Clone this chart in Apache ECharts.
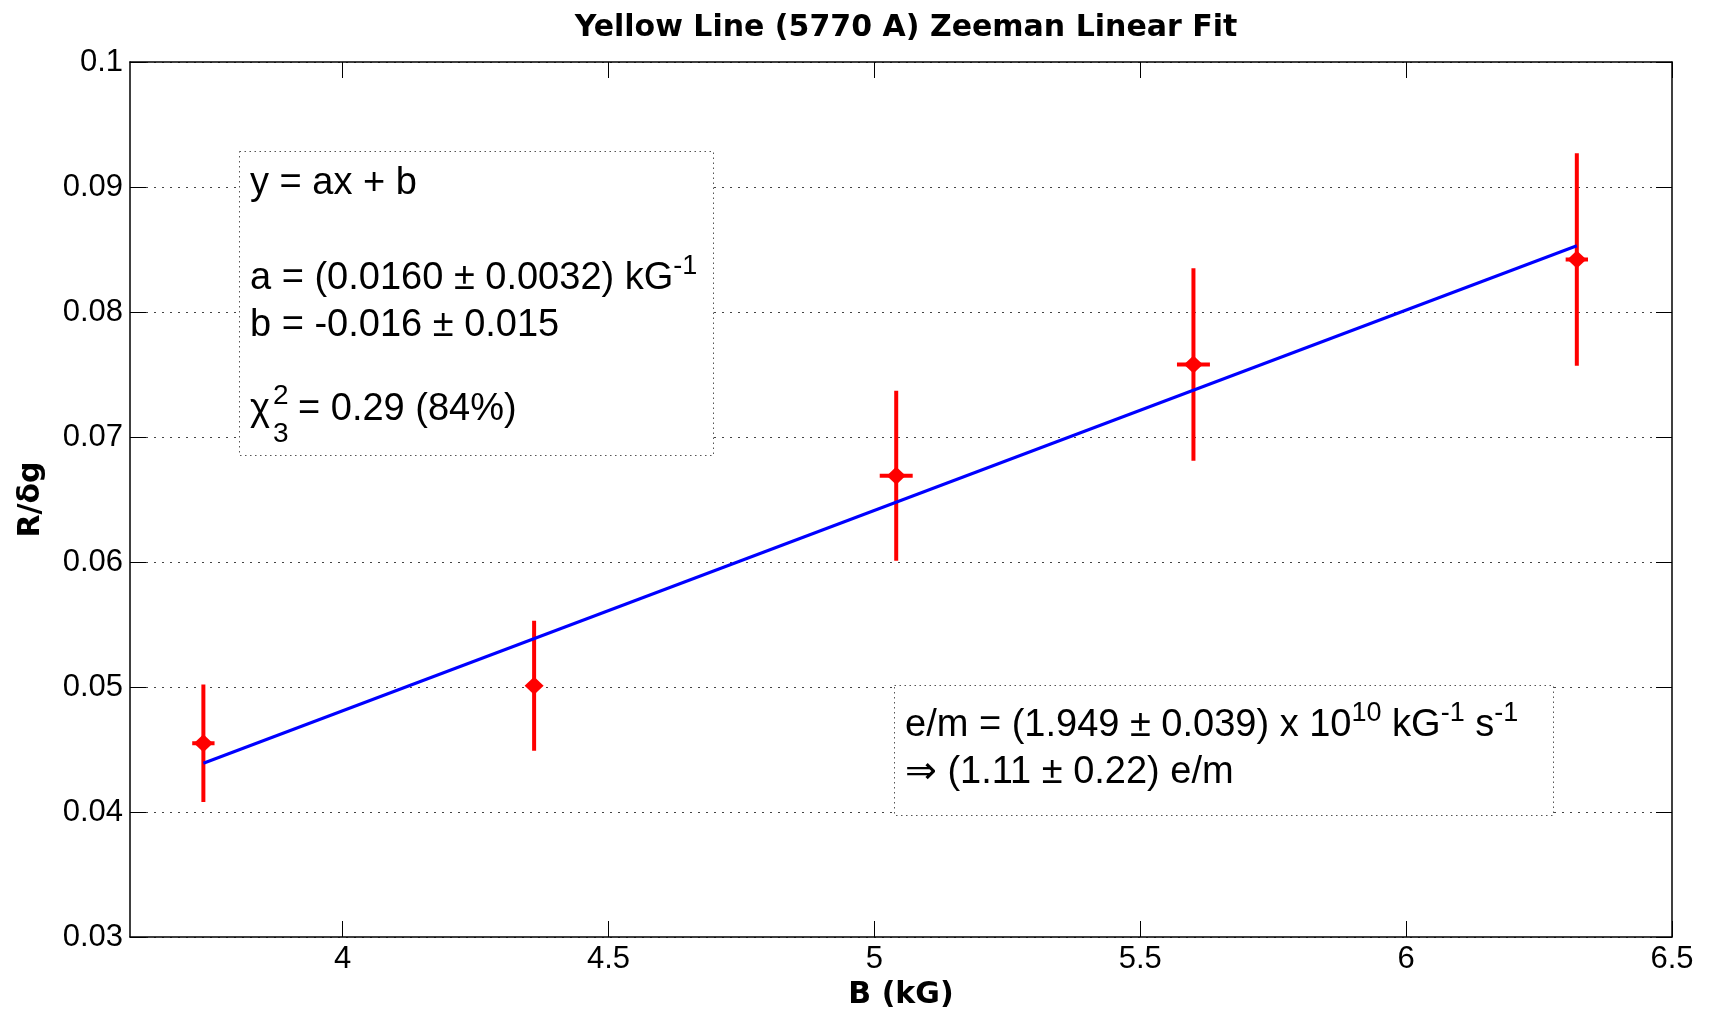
<!DOCTYPE html>
<html><head><meta charset="utf-8">
<script src="https://cdn.jsdelivr.net/npm/echarts@6/dist/echarts.min.js"></script>
<style>html,body{margin:0;padding:0;background:#fff}#c{width:1714px;height:1016px}</style>
</head><body><div id="c"></div>
<script>
// ---- data ----
const bField   = [3.738, 4.360, 5.041, 5.600, 6.321];   // B (kG)
const bErr     = [0.021, 0.010, 0.031, 0.031, 0.021];
const ratio    = [0.0455, 0.0501, 0.0669, 0.0758, 0.0842]; // R/δg
const ratioErr = [0.0047, 0.0052, 0.0068, 0.0077, 0.0085];
const fitB     = [3.738, 6.321];
const fitRatio = [0.0439, 0.0853];
const xTicks   = [4, 4.5, 5, 5.5, 6, 6.5];
const yTicks   = [0.03, 0.04, 0.05, 0.06, 0.07, 0.08, 0.09, 0.1];
const titleText = 'Yellow Line (5770 A) Zeeman Linear Fit';
const xName = 'B (kG)';
const yName = 'R/δg';

const SANS = "'Liberation Sans', Arial, 'DejaVu Sans', sans-serif";
const BOLD = "'DejaVu Sans', sans-serif";
const chart = echarts.init(document.getElementById('c'), null, {renderer: 'canvas'});

const axisLineStyle = {color: '#000', width: 1.5};
const tickStyle = {color: '#000', width: 1};

const errData = bField.map((b, i) => [b, ratio[i], bErr[i], ratioErr[i]]);
const ptData = bField.map((b, i) => [b, ratio[i]]);
const fitData = fitB.map((b, i) => [b, fitRatio[i]]);

const FS = 38;
const richN = {fontSize: FS, fontFamily: SANS, lineHeight: 61, fill: '#000'};
const richS = {fontSize: 27, fontFamily: SANS, lineHeight: 27, padding: [0, 0, 24, 0], fill: '#000'};
function rtext(x, top, text) {
  return {type: 'text', z: 101, x: x, y: top,
    style: {text: text, fontSize: FS, fontFamily: SANS, fill: '#000', align: 'left', verticalAlign: 'top',
      rich: {n: richN, s: richS}}};
}
function ptext(x, ymid, text, fs) {
  return {type: 'text', z: 101, x: x, y: ymid,
    style: {text: text, fontSize: fs, fontFamily: SANS, fill: '#000', align: 'left', verticalAlign: 'middle'}};
}
const boxStyle = {fill: '#fff', stroke: '#555', lineWidth: 1, lineDash: [1.5, 3.5]};

const option = {
  animation: false,
  backgroundColor: '#fff',
  textStyle: {fontFamily: SANS},
  title: {text: titleText, left: 901, top: 8, textAlign: 'center',
    textStyle: {fontFamily: BOLD, fontWeight: 'bold', fontSize: 30, color: '#000'}},
  grid: {left: 130, right: 42, top: 62, bottom: 79, containLabel: false},
  xAxis: [
    {type: 'value', min: 3.6, max: 6.5, position: 'bottom',
      axisLine: {show: true, onZero: false, lineStyle: axisLineStyle},
      axisTick: {show: true, inside: true, length: 16, customValues: xTicks, lineStyle: tickStyle},
      axisLabel: {customValues: xTicks, fontSize: 31, color: '#000', margin: 7, fontFamily: SANS},
      splitLine: {show: false},
      name: xName, nameLocation: 'middle', nameGap: 43,
      nameTextStyle: {fontFamily: BOLD, fontWeight: 'bold', fontSize: 30, color: '#000'}},
    {type: 'value', min: 3.6, max: 6.5, position: 'top',
      axisLine: {show: true, onZero: false, lineStyle: axisLineStyle},
      axisTick: {show: true, inside: true, length: 16, customValues: xTicks, lineStyle: tickStyle},
      axisLabel: {show: false}, splitLine: {show: false}}
  ],
  yAxis: [
    {type: 'value', min: 0.03, max: 0.1, interval: 0.01, position: 'left',
      axisLine: {show: true, onZero: false, lineStyle: axisLineStyle},
      axisTick: {show: true, inside: true, length: 16, lineStyle: tickStyle},
      axisLabel: {fontSize: 31, color: '#000', margin: 7, fontFamily: SANS,
        formatter: v => String(+(+v).toFixed(2))},
      splitLine: {show: true, lineStyle: {type: [2, 6], color: '#444', width: 1}},
      name: yName, nameLocation: 'middle', nameGap: 84,
      nameTextStyle: {fontFamily: BOLD, fontWeight: 'bold', fontSize: 30, color: '#000'}},
    {type: 'value', min: 0.03, max: 0.1, interval: 0.01, position: 'right',
      axisLine: {show: true, onZero: false, lineStyle: axisLineStyle},
      axisTick: {show: true, inside: true, length: 16, lineStyle: tickStyle},
      axisLabel: {show: false}, splitLine: {show: false}}
  ],
  series: [
    {type: 'custom', name: 'err', xAxisIndex: 0, yAxisIndex: 0, z: 3, data: errData,
      renderItem: function (params, api) {
        const x = api.value(0), y = api.value(1), ex = api.value(2), ey = api.value(3);
        const t = api.coord([x, y + ey]), b = api.coord([x, y - ey]);
        const l = api.coord([x - ex, y]), r = api.coord([x + ex, y]);
        const st = {stroke: '#ff0000', lineWidth: 4};
        return {type: 'group', children: [
          {type: 'line', shape: {x1: t[0], y1: t[1], x2: b[0], y2: b[1]}, style: st},
          {type: 'line', shape: {x1: l[0], y1: l[1], x2: r[0], y2: r[1]}, style: st}
        ]};
      }},
    {type: 'line', name: 'fit', data: fitData, z: 4, showSymbol: false, symbol: 'none',
      lineStyle: {color: '#0000ff', width: 3}},
    {type: 'scatter', name: 'data', data: ptData, z: 5, symbol: 'diamond', symbolSize: [19, 18],
      itemStyle: {color: '#ff0000', opacity: 1}}
  ],
  graphic: [
    {type: 'rect', z: 100, shape: {x: 239.5, y: 151.5, width: 474, height: 304}, style: boxStyle},
    rtext(250, 153, '{n|y = ax + b}'),
    rtext(250, 248, '{n|a = (0.0160 ± 0.0032) kG}{s|-1}'),
    rtext(250, 295, '{n|b = -0.016 ± 0.015}'),
    ptext(250, 410, 'χ', FS),
    ptext(273, 396, '2', 28),
    ptext(273, 434, '3', 28),
    ptext(298, 410, '= 0.29 (84%)', FS),
    {type: 'rect', z: 100, shape: {x: 894.5, y: 685.5, width: 659, height: 130}, style: boxStyle},
    rtext(905, 695, '{n|e/m = (1.949 ± 0.039) x 10}{s|10}{n| kG}{s|-1}{n| s}{s|-1}'),
    rtext(905, 742, '{n|⇒ (1.11 ± 0.22) e/m}')
  ]
};
chart.setOption(option);
</script>
</body></html>
